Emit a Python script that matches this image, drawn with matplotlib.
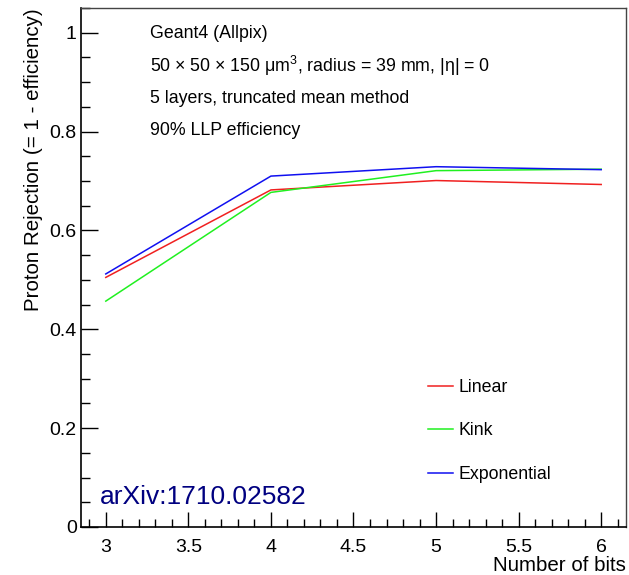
import matplotlib
matplotlib.use("Agg")
import matplotlib.pyplot as plt
from matplotlib.ticker import MultipleLocator

# data
bits = [3, 4, 5, 6]
linear = [0.505, 0.682, 0.701, 0.693]
kink = [0.457, 0.677, 0.721, 0.724]
exponential = [0.512, 0.710, 0.729, 0.723]
series_names = ["Linear", "Kink", "Exponential"]
info_lines = [
    "Geant4 (Allpix)",
    "50 × 50 × 150 μm$^{3}$, radius = 39 mm, |η| = 0",
    "5 layers, truncated mean method",
    "90% LLP efficiency",
]

plt.rcParams["font.family"] = ["Liberation Sans", "DejaVu Sans"]
plt.rcParams["mathtext.fontset"] = "custom"
plt.rcParams["mathtext.rm"] = "Liberation Sans"
plt.rcParams["mathtext.it"] = "Liberation Sans"

fig = plt.figure(figsize=(6.29, 5.75), dpi=100)
ax = fig.add_axes([0.1288, 0.0835, 0.8664, 0.9025])

ax.plot(bits, linear, color="#f02020", lw=1.1, label=series_names[0])
ax.plot(bits, kink, color="#20f020", lw=1.1, label=series_names[1])
ax.plot(bits, exponential, color="#1010f0", lw=1.1, label=series_names[2])

ax.set_xlim(2.85, 6.15)
ax.set_ylim(0, 1.05)

ax.xaxis.set_minor_locator(MultipleLocator(0.1))
ax.yaxis.set_minor_locator(MultipleLocator(0.05))
ax.set_xticks([3, 3.5, 4, 4.5, 5, 5.5, 6])
ax.set_xticklabels(["3", "3.5", "4", "4.5", "5", "5.5", "6"])
ax.set_yticks([0, 0.2, 0.4, 0.6, 0.8, 1.0])
ax.set_yticklabels(["0", "0.2", "0.4", "0.6", "0.8", "1"])

ax.tick_params(which="both", direction="in", top=False, right=False, labelsize=14, width=1.0)
ax.tick_params(axis="y", which="major", length=12, pad=3)
ax.tick_params(axis="y", which="minor", length=6.7)
ax.tick_params(axis="x", which="major", length=11, pad=9)
ax.tick_params(axis="x", which="minor", length=6)

for s in ["left", "bottom"]:
    ax.spines[s].set_linewidth(1.2)
for s in ["top", "right"]:
    ax.spines[s].set_linewidth(1.0)
    ax.spines[s].set_color("#444444")

ax.set_ylabel("Proton Rejection (= 1 - efficiency)", fontsize=14.8, loc="top", labelpad=5)
ax.set_xlabel("Number of bits", fontsize=14.8, loc="right", labelpad=0)

for i, txt in enumerate(info_lines):
    ax.text(0.126, 0.950 - i * 0.0623, txt, transform=ax.transAxes,
            fontsize=12.8, va="center", ha="left")

ax.text(0.034, 0.058, "arXiv:1710.02582", transform=ax.transAxes,
        fontsize=19, color="#000080", va="center", ha="left")

ax.legend(loc="center left", bbox_to_anchor=(0.637, 0.185), frameon=False,
          fontsize=12.8, labelspacing=1.5, handlelength=1.4, handletextpad=0.3,
          borderpad=0, borderaxespad=0)

fig.savefig("out.png", dpi=100)
